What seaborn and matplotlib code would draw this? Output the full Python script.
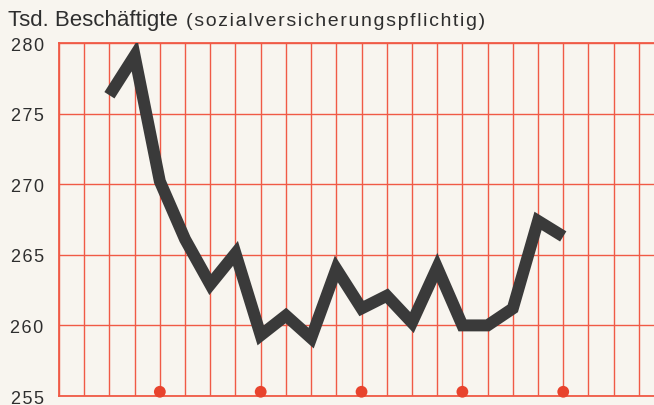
import pandas as pd
import seaborn as sns
import matplotlib.pyplot as plt

# Tsd. Beschäftigte (sozialversicherungspflichtig), monatliche Werte
monat = list(range(2, 21))
beschaeftigte = [276.3, 279.1, 270.2, 266.1, 262.9, 265.1, 259.3, 260.7, 259.1,
                 264.0, 261.2, 262.1, 260.2, 264.1, 260.0, 260.0, 261.2, 267.4, 266.3]
# rote Punkte an der Grundlinie
marker_monate = [4, 8, 12, 16, 20]
y_ticks = [255, 260, 265, 270, 275, 280]

bg = '#f8f5ef'
rot = '#f05a46'
grau = '#3a3a3a'
hs = '\u200a'  # hair space fuer gesperrte Schrift

sns.set_theme(style='white')
plt.rcParams['font.family'] = ['Liberation Sans', 'DejaVu Sans']

fig = plt.figure(figsize=(6.54, 4.06), dpi=100, facecolor=bg)
ax = fig.add_axes([59 / 654, 9 / 406, 1 - 59 / 654, (397 - 44) / 406])
ax.set_facecolor(bg)

df = pd.DataFrame({'Monat': monat, 'Tsd': beschaeftigte})
sns.lineplot(data=df, x='Monat', y='Tsd', ax=ax, color=grau, linewidth=8.6, zorder=5)
linie = ax.lines[0]
linie.set_solid_joinstyle('miter')
linie.set_solid_capstyle('butt')

sns.scatterplot(x=marker_monate, y=[255.3] * len(marker_monate), ax=ax, color='#e8432d',
                s=72, edgecolor='none', zorder=6, clip_on=False)

ax.set_xlim(0, 23.6)
ax.set_ylim(255, 280)
ax.set_xticks(range(0, 24))
ax.set_xticklabels([])
ax.set_yticks(y_ticks)
ax.set_yticklabels([hs.join(str(v)) for v in y_ticks])
ax.set_xlabel('')
ax.set_ylabel('')
ax.grid(True, color=rot, linewidth=1.0)
ax.tick_params(axis='x', length=0)
ax.tick_params(axis='y', length=0, pad=11, labelsize=13, labelcolor='#2e2e2e')

for side in ['left', 'bottom', 'top']:
    ax.spines[side].set_color(rot)
    ax.spines[side].set_linewidth(1.3)
ax.spines['right'].set_visible(False)

fig.text(8 / 654, 1 - 26 / 406, 'Tsd. Beschäftigte', fontsize=16, color='#2e2e2e', va='baseline')
fig.text(186 / 654, 1 - 26 / 406, hs.join('(sozialversicherungspflichtig)'), fontsize=14,
         color='#2e2e2e', va='baseline')

fig.savefig('out.png', dpi=100, facecolor=bg)
